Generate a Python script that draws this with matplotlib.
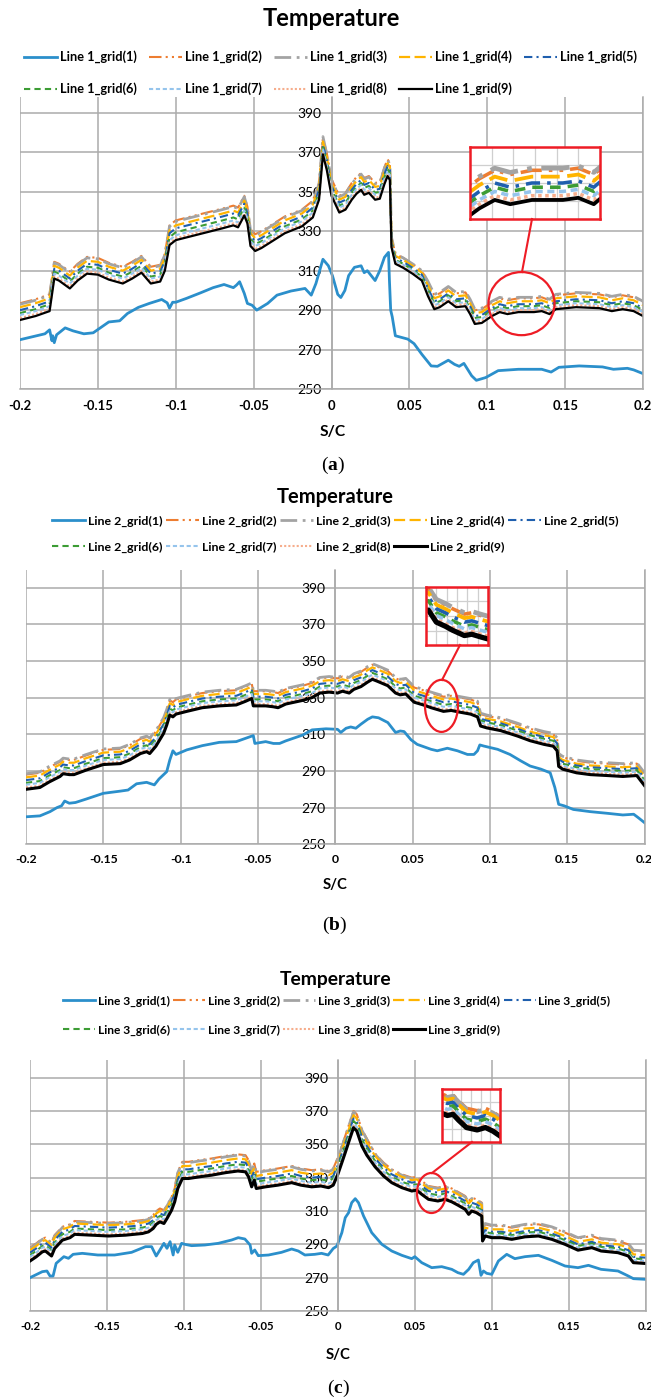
import numpy as np
import matplotlib
matplotlib.use("Agg")
import matplotlib.pyplot as plt
from matplotlib.patches import Ellipse
from matplotlib.lines import Line2D

W, H, DPI = 651, 1400, 100

plt.rcParams['font.family'] = ['Lato', 'DejaVu Sans']
plt.rcParams['mathtext.fontset'] = 'custom'
plt.rcParams['mathtext.rm'] = 'Liberation Serif'
plt.rcParams['mathtext.bf'] = 'Liberation Serif:bold'

# ---------------------------------------------------------------- axes ticks
TICK_X = [-0.2, -0.15, -0.1, -0.05, 0.0, 0.05, 0.1, 0.15, 0.2]
TICK_X_LABELS = ['-0.2', '-0.15', '-0.1', '-0.05', '0', '0.05', '0.1', '0.15', '0.2']
TICK_Y = [250, 270, 290, 310, 330, 350, 370, 390]
TITLE = 'Temperature'
X_LABEL = 'S/C'

# ---------------------------------------------------------------- (a) Line 1
a_x_grid1 = [-0.2, -0.184, -0.181, -0.1795, -0.179, -0.178, -0.1765, -0.171, -0.166, -0.159,
             -0.153, -0.149, -0.143, -0.136, -0.131, -0.124, -0.117, -0.109, -0.1055, -0.104,
             -0.102, -0.1, -0.093, -0.084, -0.076, -0.069, -0.063, -0.061, -0.059, -0.056,
             -0.054, -0.051, -0.048, -0.041, -0.035, -0.026, -0.017, -0.013, -0.01, -0.0055,
             -0.002, 0.0006, 0.004, 0.006, 0.0086, 0.011, 0.0147, 0.019, 0.021, 0.023,
             0.028, 0.031, 0.034, 0.0366, 0.0372, 0.038, 0.039, 0.041, 0.049, 0.053,
             0.058, 0.064, 0.068, 0.075, 0.079, 0.082, 0.085, 0.09, 0.093, 0.099,
             0.107, 0.12, 0.135, 0.141, 0.146, 0.159, 0.174, 0.181, 0.19, 0.194,
             0.2]
a_grid1 = [275, 278, 280, 274.5, 277, 273.5, 277.5, 281, 279.5, 278,
           278.5, 280.7, 284, 284.6, 288.3, 291.4, 293.4, 295.4, 293.7, 291,
           294, 294, 296, 298.8, 301.4, 303, 301.4, 302.7, 304.4, 298.5,
           293.4, 292.5, 290, 293.4, 297.6, 299.7, 301, 297.6, 303.5, 315.8,
           312.5, 307.5, 298, 296.4, 300, 307.5, 311.7, 312.5, 309, 310,
           305, 310, 316.8, 319.3, 305, 290, 286.6, 277, 275.3, 273,
           267.6, 261.7, 261.5, 264.6, 262.5, 261.5, 263, 256.7, 254.4, 255.8,
           259.3, 260, 260, 258.6, 261, 261.7, 261.2, 260, 260.5, 259.7,
           257.8]

a_x = [-0.2, -0.19, -0.181, -0.178, -0.175, -0.168, -0.163, -0.157, -0.15, -0.143,
       -0.134, -0.128, -0.122, -0.116, -0.11, -0.107, -0.104, -0.1, -0.09, -0.08,
       -0.07, -0.063, -0.06, -0.056, -0.054, -0.052, -0.049, -0.045, -0.038, -0.03,
       -0.019, -0.012, -0.008, -0.0055, -0.003, 0.0, 0.005, 0.009, 0.013, 0.016,
       0.019, 0.021, 0.024, 0.028, 0.031, 0.034, 0.036, 0.0375, 0.0385, 0.041,
       0.046, 0.052, 0.058, 0.062, 0.066, 0.0695, 0.075, 0.08, 0.086, 0.089,
       0.092, 0.0965, 0.103, 0.108, 0.113, 0.12, 0.13, 0.135, 0.14, 0.144,
       0.157, 0.172, 0.18, 0.187, 0.194, 0.2]
a_grid2 = [293.5, 295.5, 298, 314.5, 313.5, 309.5, 313.5, 317, 316.5, 314,
           312, 314.5, 317.5, 312, 313, 318.5, 333, 335.5, 337.5, 339.5,
           341.5, 343, 342, 348, 342.5, 331, 328.5, 330, 333.5, 337.5,
           341, 345.5, 354.5, 377.5, 369.5, 356.5, 348, 349.5, 354.5, 357.5,
           359.5, 357, 358, 354.5, 355, 362.5, 366.5, 364.5, 327, 318.5,
           316.5, 313.5, 310, 304, 297.5, 298.5, 301.5, 298.5, 299, 295,
           290, 290.5, 294, 296, 295, 296, 296, 296.5, 295, 297.5,
           298.5, 298, 296.5, 297.5, 296.5, 294]
a_grid3 = [293, 295, 297.5, 314, 313, 309, 313, 316.5, 316, 313.5,
           311.5, 314, 317, 311.5, 312.5, 318, 332.5, 335, 337, 339,
           341, 342.5, 341.5, 347.5, 342, 330.5, 328, 329.5, 333, 337,
           340.5, 345, 354, 378, 369, 356, 347.5, 349, 354, 357,
           359, 356.5, 357.5, 354, 354.5, 362, 366, 364, 327, 318.5,
           316.5, 313.5, 310, 304.5, 298, 299, 302, 299, 299.5, 295.5,
           290.5, 291, 294.5, 296.5, 295.5, 296.5, 296.5, 297, 295.5, 298,
           299, 298.5, 297, 298, 297, 294.5]
a_grid4 = [291.5, 293.5, 296, 312.5, 311.5, 307.5, 311.5, 315, 314.5, 312,
           310, 312.5, 315.5, 310, 311, 316.5, 330.5, 333, 335, 337,
           339, 340.5, 339.5, 345.5, 340.5, 329, 326.5, 328, 331.5, 335.5,
           339, 343.5, 352.5, 375.5, 367.5, 354.5, 346, 347.5, 352.5, 355.5,
           357.5, 355, 356, 352.5, 353, 360.5, 364.5, 362.5, 326, 317.5,
           315.5, 312.5, 309, 302.5, 296, 297, 300, 297, 297.5, 293.5,
           288.5, 289, 292.5, 294.5, 293.5, 294.5, 294.5, 295, 293.5, 296,
           297, 296.5, 295, 296, 295, 292.5]
a_grid5 = [290, 292, 294.5, 311, 310, 306, 310, 313.5, 313, 310.5,
           308.5, 311, 314, 308.5, 309.5, 315, 329, 331.5, 333.5, 335.5,
           337.5, 339, 338, 344, 339, 327.5, 325, 326.5, 330, 334,
           337.5, 342, 351, 374, 366, 353, 344.5, 346, 351, 354,
           356, 353.5, 354.5, 351, 351.5, 359, 363, 361, 325, 316.5,
           314.5, 311.5, 308, 301, 294.5, 295.5, 298.5, 295.5, 296, 292,
           287, 287.5, 291, 293, 292, 293, 293, 293.5, 292, 294.5,
           295.5, 295, 293.5, 294.5, 293.5, 291]
a_grid6 = [288.5, 290.5, 293, 309.5, 308.5, 304.5, 308.5, 312, 311.5, 309,
           307, 309.5, 312.5, 307, 308, 313.5, 327, 329.5, 331.5, 333.5,
           335.5, 337, 336, 342, 337.5, 326, 323.5, 325, 328.5, 332.5,
           336, 340.5, 349.5, 372.5, 364.5, 351.5, 343, 344.5, 349.5, 352.5,
           354.5, 352, 353, 349.5, 350, 357.5, 361.5, 359.5, 324, 315.5,
           313.5, 310.5, 307, 300, 293.5, 294.5, 297.5, 294.5, 295, 291,
           286, 286.5, 290, 292, 291, 292, 292, 292.5, 291, 293.5,
           294.5, 294, 292.5, 293.5, 292.5, 290]
a_grid7 = [287.5, 289.5, 292, 308.5, 307.5, 303.5, 307.5, 311, 310.5, 308,
           306, 308.5, 311.5, 306, 307, 312.5, 325.5, 328, 330, 332,
           334, 335.5, 334.5, 340.5, 336.5, 325, 322.5, 324, 327.5, 331.5,
           335, 339.5, 348.5, 371.5, 363.5, 350.5, 342, 343.5, 348.5, 351.5,
           353.5, 351, 352, 348.5, 349, 356.5, 360.5, 358.5, 323.5, 315,
           313, 310, 306.5, 299, 292.5, 293.5, 296.5, 293.5, 294, 290,
           285, 285.5, 289, 291, 290, 291, 291, 291.5, 290, 292.5,
           293.5, 293, 291.5, 292.5, 291.5, 289]
a_grid8 = [286, 288, 290.5, 307, 306, 302, 306, 309.5, 309, 306.5,
           304.5, 307, 310, 304.5, 305.5, 311, 324, 326.5, 328.5, 330.5,
           332.5, 334, 333, 339, 335, 323.5, 321, 322.5, 326, 330,
           333.5, 338, 347, 370, 362, 349, 340.5, 342, 347, 350,
           352, 349.5, 350.5, 347, 347.5, 355, 359, 357, 322.5, 314,
           312, 309, 305.5, 298, 291.5, 292.5, 295.5, 292.5, 293, 289,
           284, 284.5, 288, 290, 289, 290, 290, 290.5, 289, 291.5,
           292.5, 292, 290.5, 291.5, 290.5, 288]
a_grid9 = [285, 287, 289.5, 306, 305, 301, 305, 308.5, 308, 305.5,
           303.5, 306, 309, 303.5, 304.5, 310, 323, 325.5, 327.5, 329.5,
           331.5, 333, 332, 338, 334, 322.5, 320, 321.5, 325, 329,
           332.5, 337, 346, 369, 361, 348, 339.5, 341, 346, 349,
           351, 348.5, 349.5, 346, 346.5, 354, 358, 356, 322, 313.5,
           311.5, 308.5, 305, 297, 290.5, 291.5, 294.5, 291.5, 292, 288,
           283, 283.5, 287, 289, 288, 289, 289, 289.5, 288, 290.5,
           291.5, 291, 289.5, 290.5, 289.5, 287]

# ---------------------------------------------------------------- (b) Line 2
b_x_grid1 = [-0.2, -0.191, -0.1845, -0.18, -0.177, -0.175, -0.172, -0.168, -0.161, -0.15,
             -0.139, -0.134, -0.1285, -0.122, -0.117, -0.114, -0.109, -0.107, -0.105, -0.103,
             -0.096, -0.086, -0.075, -0.064, -0.058, -0.053, -0.052, -0.045, -0.04, -0.036,
             -0.032, -0.021, -0.015, -0.006, 0.0015, 0.0036, 0.007, 0.01, 0.0133, 0.0166,
             0.021, 0.024, 0.028, 0.034, 0.039, 0.042, 0.0445, 0.049, 0.053, 0.057,
             0.062, 0.066, 0.0725, 0.079, 0.0855, 0.0897, 0.092, 0.0935, 0.096, 0.105,
             0.113, 0.12, 0.126, 0.133, 0.139, 0.142, 0.1445, 0.148, 0.154, 0.165,
             0.176, 0.186, 0.193, 0.196, 0.2]
b_grid1 = [265, 265.5, 267.8, 270, 271, 273.6, 272.4, 272.8, 274.7, 277.8,
           279, 279.6, 283, 283.8, 282.4, 285.6, 289.6, 296, 301, 299,
           301.5, 303.8, 305.6, 306, 307.8, 309.3, 305, 306, 305, 305,
           306.4, 309.6, 312.4, 313, 312.7, 311, 313.3, 314, 313.3, 315.5,
           318.2, 319.5, 319, 316.4, 311, 311.8, 311.5, 307, 304.5, 303.3,
           301.8, 301, 302.4, 301, 299, 299, 301, 304.2, 303.6, 301.8,
           299, 295.5, 292.7, 291, 289, 281, 271.8, 271, 269, 267.8,
           266.9, 266, 266.4, 264.5, 261.8]

b_x = [-0.2, -0.191, -0.185, -0.178, -0.176, -0.172, -0.169, -0.161, -0.15, -0.139,
       -0.133, -0.126, -0.122, -0.12, -0.116, -0.111, -0.109, -0.107, -0.105, -0.103,
       -0.096, -0.086, -0.075, -0.064, -0.058, -0.054, -0.053, -0.045, -0.04, -0.037,
       -0.032, -0.021, -0.015, -0.01, -0.004, 0.0015, 0.0047, 0.009, 0.012, 0.0166,
       0.021, 0.024, 0.027, 0.034, 0.039, 0.042, 0.0456, 0.051, 0.057, 0.062,
       0.066, 0.07, 0.075, 0.081, 0.0875, 0.092, 0.094, 0.098, 0.107, 0.118,
       0.126, 0.135, 0.141, 0.1435, 0.1445, 0.147, 0.156, 0.165, 0.176, 0.186,
       0.195, 0.2]
b_grid2 = [288, 289, 292, 295, 296.5, 296, 296, 298.5, 301.5, 302,
           304, 307.5, 308.5, 307.5, 311.5, 318.5, 323, 328.5, 327.5, 329,
           330.5, 332.5, 333.5, 334, 336, 337.5, 333.5, 333.5, 333, 332.5,
           334.5, 336.5, 338, 340.5, 341, 340.5, 341.5, 340.5, 342.5, 344,
           346.5, 348, 347, 344.5, 340.5, 339.5, 340, 335.5, 334, 332.5,
           331.5, 330.5, 331, 330, 329, 327.5, 321, 320, 318.5, 315.5,
           313, 311, 310, 307.5, 299, 297.5, 295.5, 294.5, 294, 293.5,
           294, 288.5]
b_grid3 = [288.5, 289.5, 292.5, 295.5, 297, 296.5, 296.5, 299, 302, 302.5,
           304.5, 308, 309, 308, 312, 319, 323.5, 329, 328, 329.5,
           331, 333, 334, 334.5, 336.5, 338, 334, 334, 333.5, 333,
           335, 337, 338.5, 341, 341.5, 341, 342, 341, 343, 344.5,
           347, 348.5, 347.5, 345, 341, 340, 340.5, 336, 334.5, 333,
           332, 331, 331.5, 330.5, 329.5, 328, 321.5, 320.5, 319, 316,
           313.5, 311.5, 310.5, 308, 299.5, 298, 296, 295, 294.5, 294,
           294.5, 289]
b_grid4 = [286.5, 287.5, 290.5, 293.5, 295, 294.5, 294.5, 297, 300, 300.5,
           302.5, 306, 307, 306, 310, 317, 321.5, 327, 326, 327.5,
           329, 331, 332, 332.5, 334.5, 336, 332, 332, 331.5, 331,
           333, 335, 336.5, 339, 339.5, 339, 340, 339, 341, 342.5,
           345, 346.5, 345.5, 343, 339, 338, 338.5, 334, 332.5, 331,
           330, 329, 329.5, 328.5, 327.5, 326, 319.5, 318.5, 317, 314,
           311.5, 309.5, 308.5, 306, 297.5, 296, 294, 293, 292.5, 292,
           292.5, 287]
b_grid5 = [285, 286, 289, 292, 293.5, 293, 293, 295.5, 298.5, 299,
           301, 304.5, 305.5, 304.5, 308.5, 315.5, 320, 325.5, 324.5, 326,
           327.5, 329.5, 330.5, 331, 333, 334.5, 330.5, 330.5, 330, 329.5,
           331.5, 333.5, 335, 337.5, 338, 337.5, 338.5, 337.5, 339.5, 341,
           343.5, 345, 344, 341.5, 337.5, 336.5, 337, 332.5, 331, 329.5,
           328.5, 327.5, 328, 327, 326, 324.5, 318.5, 317.5, 316, 313,
           310.5, 308.5, 307.5, 305, 296.5, 295, 293, 292, 291.5, 291,
           291.5, 286]
b_grid6 = [283.5, 284.5, 287.5, 290.5, 292, 291.5, 291.5, 294, 297, 297.5,
           299.5, 303, 304, 303, 307, 314, 318.5, 324, 323, 324.5,
           326, 328, 329, 329.5, 331.5, 333, 329, 329, 328.5, 328,
           330, 332, 333.5, 336, 336.5, 336, 337, 336, 338, 339.5,
           342, 343.5, 342.5, 340, 336, 335, 335.5, 331, 329.5, 328,
           327, 326, 326.5, 325.5, 324.5, 323, 317.5, 316.5, 315, 312,
           309.5, 307.5, 306.5, 304, 295.5, 294, 292, 291, 290.5, 290,
           290.5, 285]
b_grid7 = [282.5, 283.5, 286.5, 289.5, 291, 290.5, 290.5, 293, 296, 296.5,
           298.5, 302, 303, 302, 306, 313, 317.5, 323, 322, 323.5,
           325, 327, 328, 328.5, 330.5, 332, 328, 328, 327.5, 327,
           329, 331, 332.5, 335, 335.5, 335, 336, 335, 337, 338.5,
           341, 342.5, 341.5, 339, 335, 334, 334.5, 330, 328.5, 327,
           326, 325, 325.5, 324.5, 323.5, 322, 316.5, 315.5, 314, 311,
           308.5, 306.5, 305.5, 303, 294.5, 293, 291, 290, 289.5, 289,
           289.5, 284]
b_grid8 = [281, 282, 285, 288, 289.5, 289, 289, 291.5, 294.5, 295,
           297, 300.5, 301.5, 300.5, 304.5, 311.5, 316, 321.5, 320.5, 322,
           323.5, 325.5, 326.5, 327, 329, 330.5, 326.5, 326.5, 326, 325.5,
           327.5, 329.5, 331, 333.5, 334, 333.5, 334.5, 333.5, 335.5, 337,
           339.5, 341, 340, 337.5, 333.5, 332.5, 333, 328.5, 327, 325.5,
           324.5, 323.5, 324, 323, 322, 320.5, 315.5, 314.5, 313, 310,
           307.5, 305.5, 304.5, 302, 293.5, 292, 290, 289, 288.5, 288,
           288.5, 283]
b_grid9 = [280, 281, 284, 287, 288.5, 288, 288, 290.5, 293.5, 294,
           296, 299.5, 300.5, 299.5, 303.5, 310.5, 315, 320.5, 319.5, 321,
           322.5, 324.5, 325.5, 326, 328, 329.5, 325.5, 325.5, 325, 324.5,
           326.5, 328.5, 330, 332.5, 333, 332.5, 333.5, 332.5, 334.5, 336,
           338.5, 340, 339, 336.5, 332.5, 331.5, 332, 327.5, 326, 324.5,
           323.5, 322.5, 323, 322, 321, 319.5, 314.5, 313.5, 312, 309,
           306.5, 304.5, 303.5, 301, 292.5, 291, 289, 288, 287.5, 287,
           287.5, 282]

# ---------------------------------------------------------------- (c) Line 3
c_x_grid1 = [-0.2, -0.192, -0.189, -0.187, -0.185, -0.183, -0.178, -0.175, -0.172, -0.166,
             -0.156, -0.145, -0.134, -0.125, -0.121, -0.118, -0.1156, -0.113, -0.111, -0.109,
             -0.107, -0.106, -0.104, -0.1015, -0.0994, -0.095, -0.0864, -0.0777, -0.069, -0.0647,
             -0.0604, -0.057, -0.056, -0.054, -0.0517, -0.045, -0.0366, -0.03, -0.0257, -0.0214,
             -0.015, -0.0106, -0.0063, -0.003, -0.0006, 0.0026, 0.0048, 0.007, 0.009, 0.0113,
             0.0134, 0.0167, 0.022, 0.0286, 0.035, 0.0416, 0.048, 0.05, 0.0545, 0.061,
             0.0675, 0.074, 0.078, 0.0816, 0.085, 0.088, 0.0913, 0.093, 0.0946, 0.0967,
             0.1, 0.1043, 0.1097, 0.115, 0.1216, 0.1303, 0.139, 0.1476, 0.156, 0.1628,
             0.171, 0.182, 0.1887, 0.192, 0.2]
c_grid1 = [270, 273.6, 274, 271, 271, 278.6, 282.6, 281.6, 284, 284.6,
           283.6, 283.6, 285.2, 288.6, 288.6, 283, 286.6, 290.6, 287.6, 291.6,
           283.6, 289.6, 285.2, 290.6, 290, 289.2, 289.6, 290.6, 292.6, 294,
           293.2, 289.6, 284.6, 286.6, 283.2, 283.6, 285.2, 287.2, 286, 283.6,
           284, 284.6, 283.6, 287.5, 289, 297, 306, 309, 315, 317.4,
           315, 307, 297, 290, 286, 283.4, 281.4, 282.6, 279, 276,
           276.6, 275, 273, 272, 275, 279, 280.6, 271.4, 274, 272.6,
           272, 280, 284, 281.4, 282.6, 283.4, 280.4, 277, 276, 277.4,
           275, 274, 271, 269.4, 269]

c_x = [-0.2, -0.196, -0.192, -0.19, -0.186, -0.184, -0.179, -0.174, -0.171, -0.16,
       -0.149, -0.138, -0.127, -0.123, -0.12, -0.118, -0.1156, -0.113, -0.111, -0.108,
       -0.106, -0.104, -0.101, -0.097, -0.09, -0.082, -0.073, -0.065, -0.06, -0.058,
       -0.056, -0.0543, -0.053, -0.047, -0.039, -0.03, -0.024, -0.017, -0.011, -0.006,
       -0.003, 0.0, 0.0026, 0.0048, 0.008, 0.0102, 0.0123, 0.0156, 0.0188, 0.0242,
       0.0297, 0.035, 0.0416, 0.048, 0.0513, 0.0545, 0.0589, 0.065, 0.0697, 0.074,
       0.078, 0.0827, 0.085, 0.087, 0.09, 0.0935, 0.094, 0.0957, 0.1, 0.1065,
       0.113, 0.1216, 0.1303, 0.139, 0.1476, 0.156, 0.165, 0.171, 0.182, 0.1887,
       0.192, 0.2]
c_grid2 = [288, 290.5, 293.5, 294, 291, 295.5, 300.5, 302, 304, 303.5,
           303, 303.5, 304.5, 305.5, 307.5, 310, 311.5, 310.5, 313.5, 318.5,
           323.5, 333.5, 339.5, 339.5, 340.5, 341.5, 343, 344, 343.5, 340.5,
           334.5, 338.5, 333.5, 334.5, 335.5, 337, 335.5, 334.5, 335, 334,
           335.5, 342, 349, 355, 364, 370, 368, 359, 353.5, 344.5,
           339, 335, 332, 330, 330.5, 328, 325, 324, 325, 323.5,
           321.5, 319, 316, 318, 317, 315, 299, 302, 301, 301,
           300, 301.5, 302, 300, 297, 293.5, 295, 293, 292, 290,
           286, 285.5]
c_grid3 = [287.5, 290, 293, 293.5, 290.5, 295, 300, 301.5, 303.5, 303,
           302.5, 303, 304, 305, 307, 309.5, 311, 310, 313, 318,
           323, 333, 339, 339, 340, 341, 342.5, 343.5, 343, 340,
           334, 338, 333, 334, 335, 336.5, 335, 334, 334.5, 333.5,
           335, 341.5, 348.5, 354.5, 363.5, 369.5, 367.5, 358.5, 353, 344,
           338.5, 334.5, 331.5, 329.5, 330, 327.5, 324.5, 323.5, 324.5, 323,
           321, 318.5, 315.5, 317.5, 316.5, 314.5, 299.5, 302.5, 301.5, 301.5,
           300.5, 302, 302.5, 300.5, 297.5, 294, 295.5, 293.5, 292.5, 290.5,
           286.5, 286]
c_grid4 = [286.5, 289, 292, 292.5, 289.5, 294, 299, 300.5, 302.5, 302,
           301.5, 302, 303, 304, 306, 308.5, 310, 309, 312, 317,
           322, 331, 337, 337, 338, 339, 340.5, 341.5, 341, 338,
           332, 336, 331, 332, 333, 334.5, 333, 332, 332.5, 331.5,
           333, 339.5, 346.5, 352.5, 361.5, 367.5, 365.5, 356.5, 351, 343,
           337.5, 333.5, 330.5, 328.5, 329, 326.5, 323.5, 322.5, 323.5, 322,
           320, 317.5, 314.5, 316.5, 315.5, 313.5, 297, 300, 299, 299,
           298, 299.5, 300, 298, 295, 291.5, 293, 291, 290, 288,
           284, 283.5]
c_grid5 = [285, 287.5, 290.5, 291, 288, 292.5, 297.5, 299, 301, 300.5,
           300, 300.5, 301.5, 302.5, 304.5, 307, 308.5, 307.5, 310.5, 315.5,
           320.5, 329, 335, 335, 336, 337, 338.5, 339.5, 339, 336,
           330, 334, 329, 330, 331, 332.5, 331, 330, 330.5, 329.5,
           331, 337.5, 344.5, 350.5, 359.5, 365.5, 363.5, 354.5, 349, 341.5,
           336, 332, 329, 327, 327.5, 325, 322, 321, 322, 320.5,
           318.5, 316, 313, 315, 314, 312, 295.5, 298.5, 297.5, 297.5,
           296.5, 298, 298.5, 296.5, 293.5, 290, 291.5, 289.5, 288.5, 286.5,
           282.5, 282]
c_grid6 = [283.5, 286, 289, 289.5, 286.5, 291, 296, 297.5, 299.5, 299,
           298.5, 299, 300, 301, 303, 305.5, 307, 306, 309, 314,
           319, 327.5, 333.5, 333.5, 334.5, 335.5, 337, 338, 337.5, 334.5,
           328.5, 332.5, 327.5, 328.5, 329.5, 331, 329.5, 328.5, 329, 328,
           329.5, 336, 343, 349, 358, 364, 362, 353, 347.5, 340,
           334.5, 330.5, 327.5, 325.5, 326, 323.5, 320.5, 319.5, 320.5, 319,
           317, 314.5, 311.5, 313.5, 312.5, 310.5, 294.5, 297.5, 296.5, 296.5,
           295.5, 297, 297.5, 295.5, 292.5, 289, 290.5, 288.5, 287.5, 285.5,
           281.5, 281]
c_grid7 = [282.5, 285, 288, 288.5, 285.5, 290, 295, 296.5, 298.5, 298,
           297.5, 298, 299, 300, 302, 304.5, 306, 305, 308, 313,
           318, 326, 332, 332, 333, 334, 335.5, 336.5, 336, 333,
           327, 331, 326, 327, 328, 329.5, 328, 327, 327.5, 326.5,
           328, 334.5, 341.5, 347.5, 356.5, 362.5, 360.5, 351.5, 346, 339,
           333.5, 329.5, 326.5, 324.5, 325, 322.5, 319.5, 318.5, 319.5, 318,
           316, 313.5, 310.5, 312.5, 311.5, 309.5, 293.5, 296.5, 295.5, 295.5,
           294.5, 296, 296.5, 294.5, 291.5, 288, 289.5, 287.5, 286.5, 284.5,
           280.5, 280]
c_grid8 = [281, 283.5, 286.5, 287, 284, 288.5, 293.5, 295, 297, 296.5,
           296, 296.5, 297.5, 298.5, 300.5, 303, 304.5, 303.5, 306.5, 311.5,
           316.5, 324.5, 330.5, 330.5, 331.5, 332.5, 334, 335, 334.5, 331.5,
           325.5, 329.5, 324.5, 325.5, 326.5, 328, 326.5, 325.5, 326, 325,
           326.5, 333, 340, 346, 355, 361, 359, 350, 344.5, 337.5,
           332, 328, 325, 323, 323.5, 321, 318, 317, 318, 316.5,
           314.5, 312, 309, 311, 310, 308, 292.5, 295.5, 294.5, 294.5,
           293.5, 295, 295.5, 293.5, 290.5, 287, 288.5, 286.5, 285.5, 283.5,
           279.5, 279]
c_grid9 = [280, 282.5, 285.5, 286, 283, 287.5, 292.5, 294, 296, 295.5,
           295, 295.5, 296.5, 297.5, 299.5, 302, 303.5, 302.5, 305.5, 310.5,
           315.5, 323.5, 329.5, 329.5, 330.5, 331.5, 333, 334, 333.5, 330.5,
           324.5, 328.5, 323.5, 324.5, 325.5, 327, 325.5, 324.5, 325, 324,
           325.5, 332, 339, 345, 354, 360, 358, 349, 343.5, 336.5,
           331, 327, 324, 322, 322.5, 320, 317, 316, 317, 315.5,
           313.5, 311, 308, 310, 309, 307, 292, 295, 294, 294,
           293, 294.5, 295, 293, 290, 286.5, 288, 286, 285, 283,
           279, 278.5]

# ---------------------------------------------------------------- styles
GRID_C = '#ABABAB'
RED = '#EE1C25'
SERIES_STYLE = {
    1: dict(color='#2B8FCB', ls='-', lw=2.0),
    2: dict(color='#ED7D31', ls=(0, (6, 2, 1, 2, 1, 2)), lw=1.5),
    3: dict(color='#A3A3A3', ls=(0, (6, 2, 1, 2)), lw=2.0),
    4: dict(color='#FFB400', ls=(0, (5, 2)), lw=1.6),
    5: dict(color='#1F5FAE', ls=(0, (4, 2, 1, 2)), lw=1.5),
    6: dict(color='#3C9C34', ls=(0, (3, 2)), lw=1.5),
    7: dict(color='#95C4EC', ls=(0, (2, 1.3)), lw=1.5),
    8: dict(color='#F6AD8C', ls=(0, (1, 1)), lw=1.5),
    9: dict(color='#000000', ls='-', lw=1.6),
}

PANELS = [
    dict(tag='a', line=1, x1=a_x_grid1, y1=a_grid1, x=a_x,
         ys=[a_grid2, a_grid3, a_grid4, a_grid5, a_grid6, a_grid7, a_grid8, a_grid9],
         box=(20, 643, 97, 389), ymax=398.1, black_lw=1.6,
         title=(331, 18, 138), legend=(24, 57, 89, 125, 33, 77),
         ticks=(9.4, 9.8), xpad=8, sc=(333, 432, 26), cap=(333, 465),
         inset=(470, 600, 147, 219), inset_xlim=(0.1, 0.142), inset_ylim=(284.5, 301.5),
         ellipse=((0.122, 293.3), 0.0424, 32), link=((532, 219), (522, 272))),
    dict(tag='b', line=2, x1=b_x_grid1, y1=b_grid1, x=b_x,
         ys=[b_grid2, b_grid3, b_grid4, b_grid5, b_grid6, b_grid7, b_grid8, b_grid9],
         box=(26, 644.5, 570, 844.3), ymax=399.6, black_lw=2.2,
         title=(335, 497, 117), legend=(52, 521, 547, 114, 33, 75),
         ticks=(8.8, 8.3), xpad=7, sc=(335, 885, 25), cap=(335, 925),
         inset=(426, 488, 587, 645), inset_xlim=(0.044, 0.086), inset_ylim=(319, 340.6),
         ellipse=((0.0687, 325.5), 0.0213, 28.4), link=((460, 645), (442, 680))),
    dict(tag='c', line=3, x1=c_x_grid1, y1=c_grid1, x=c_x,
         ys=[c_grid2, c_grid3, c_grid4, c_grid5, c_grid6, c_grid7, c_grid8, c_grid9],
         box=(30, 645.7, 1060, 1311), ymax=400.6, black_lw=2.2,
         title=(336, 979, 112), legend=(63, 1001, 1030, 110, 32, 72),
         ticks=(8.2, 7.9), xpad=7, sc=(338, 1355, 25), cap=(338, 1388),
         inset=(442, 500, 1089, 1142), inset_xlim=(0.045, 0.078), inset_ylim=(311, 333),
         ellipse=((0.0608, 320.8), 0.0188, 24), link=((472, 1142), (432, 1173))),
]


def fxy(px, py):
    return px / W, 1 - py / H


def text_box(fig, s, size, **kw):
    t = fig.text(0, 0, s, fontsize=size, **kw)
    bb = t.get_window_extent(renderer=fig.canvas.get_renderer())
    t.remove()
    return bb.width, bb.height


def fit_size(fig, s, width_px, **kw):
    w, _ = text_box(fig, s, 10, **kw)
    return 10 * width_px / w


def draw_panel(fig, P):
    l, r, t, b = P['box']
    ax = fig.add_axes([l / W, 1 - b / H, (r - l) / W, (b - t) / H])

    handles = []
    h, = ax.plot(P['x1'], P['y1'], label=f"Line {P['line']}_grid(1)", **SERIES_STYLE[1])
    handles.append(h)
    for k, y in enumerate(P['ys'], start=2):
        st = dict(SERIES_STYLE[k])
        if k == 9:
            st['lw'] = P['black_lw']
        h, = ax.plot(P['x'], y, label=f"Line {P['line']}_grid({k})", **st)
        handles.append(h)

    ax.set_xlim(-0.2, 0.2)
    ax.set_ylim(250, P['ymax'])
    ax.set_xticks(TICK_X)
    ax.set_xticklabels(TICK_X_LABELS, fontsize=P['ticks'][0], fontweight='bold')
    ax.set_yticks(TICK_Y)
    ax.set_yticklabels([str(v) for v in TICK_Y], fontsize=P['ticks'][1], fontweight='bold')
    ax.set_axisbelow(True)
    ax.grid(True, color=GRID_C, lw=1.1)
    ax.spines['top'].set_visible(False)
    ax.spines['left'].set_position(('data', 0.0))
    for s in ('left', 'right', 'bottom'):
        ax.spines[s].set_color(GRID_C)
        ax.spines[s].set_linewidth(1.1)
    ax.tick_params(axis='both', length=0)
    ax.tick_params(axis='x', pad=P['xpad'])
    ax.tick_params(axis='y', pad=7)

    # zoom marker on the curves
    c, ew, eh = P['ellipse']
    ax.add_patch(Ellipse(c, ew, eh, fill=False, ec=RED, lw=1.6, zorder=6))

    # title
    tx, ty, tw = P['title']
    fs = fit_size(fig, TITLE, tw, fontweight='bold')
    fig.text(*fxy(tx, ty), TITLE, ha='center', va='center', fontsize=fs, fontweight='bold')

    # legend: two rows, five columns
    lx, ly1, ly2, pitch, hpx, twid = P['legend']
    labels = [hd.get_label() for hd in handles]
    lfs = fit_size(fig, labels[0], twid, fontweight='bold')
    fs_px = lfs * DPI / 72
    lw_, lh_ = text_box(fig, labels[0], lfs, fontweight='bold')
    pad_px = 3
    order = [0, 5, 1, 6, 2, 7, 3, 8, 4]
    fig.legend([handles[i] for i in order], [labels[i] for i in order], ncol=5,
               loc='upper left', bbox_to_anchor=fxy(lx, ly1 - lh_ / 2), frameon=False,
               prop=dict(size=lfs, weight='bold'), handlelength=hpx / fs_px,
               handletextpad=pad_px / fs_px,
               columnspacing=(pitch - hpx - pad_px - lw_) / fs_px,
               labelspacing=(ly2 - ly1 - lh_) / fs_px, borderpad=0, borderaxespad=0)

    # axis label and caption
    sx, sy, sw = P['sc']
    sfs = fit_size(fig, X_LABEL, sw, fontweight='bold')
    fig.text(*fxy(sx, sy), X_LABEL, ha='center', va='center', fontsize=sfs, fontweight='bold')
    fig.text(*fxy(*P['cap']), r'($\mathbf{%s}$)' % P['tag'], ha='center', va='center',
             fontsize=14, family='Liberation Serif')

    # magnified view
    il, ir, it, ib = P['inset']
    ins = fig.add_axes([il / W, 1 - ib / H, (ir - il) / W, (ib - it) / H])
    for k, y in enumerate(P['ys'], start=2):
        st = dict(SERIES_STYLE[k])
        st['lw'] = (P['black_lw'] if k == 9 else st['lw']) * 1.7
        ins.plot(P['x'], y, **st)
    ins.set_xlim(*P['inset_xlim'])
    ins.set_ylim(*P['inset_ylim'])
    ins.set_xticks(np.linspace(*P['inset_xlim'], 7)[1:-1])
    ins.set_yticks(np.linspace(*P['inset_ylim'], 5)[1:-1])
    ins.tick_params(length=0, labelbottom=False, labelleft=False)
    ins.set_axisbelow(True)
    ins.grid(True, color='#CFCFCF', lw=0.9)
    for sp in ins.spines.values():
        sp.set_color(RED)
        sp.set_linewidth(1.8)

    (x0, y0), (x1, y1) = P['link']
    p0, p1 = fxy(x0, y0), fxy(x1, y1)
    fig.add_artist(Line2D([p0[0], p1[0]], [p0[1], p1[1]], transform=fig.transFigure,
                          color=RED, lw=1.5))


fig = plt.figure(figsize=(W / DPI, H / DPI), dpi=DPI)
for P in PANELS:
    draw_panel(fig, P)
fig.savefig('out.png', dpi=DPI)
